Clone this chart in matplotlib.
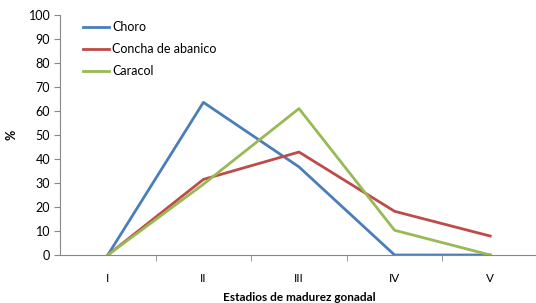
import numpy as np
import matplotlib.pyplot as plt

estadios = ["I", "II", "III", "IV", "V"]
choro = [0, 63.6, 36.7, 0, 0]
concha = [0, 31.5, 42.9, 18.2, 7.9]
caracol = [0, 29.5, 61.0, 10.3, 0]

plt.rcParams["font.family"] = ["Lato", "DejaVu Sans"]

fig = plt.figure(figsize=(5.36, 3.03), dpi=100)
ax = fig.add_axes([60 / 536, 48 / 303, 478 / 536, 240 / 303])

x = np.arange(1, len(estadios) + 1)
ax.plot(x, choro, color="#4A7EBB", lw=2, label="Choro")
ax.plot(x, concha, color="#BE4B48", lw=2, label="Concha de abanico")
ax.plot(x, caracol, color="#98B954", lw=2, label="Caracol")

ax.set_xlim(0.5, 5.5)
ax.set_ylim(0, 100)
ax.set_yticks(range(0, 101, 10))
ax.set_xticks(x)
ax.set_xticklabels(estadios)
ax.set_xticks(np.arange(1.5, 5.5, 1), minor=True)
ax.tick_params(axis="x", which="major", length=0, pad=13, labelsize=8.5)
ax.tick_params(axis="x", which="minor", length=4, color="#888888")
ax.tick_params(axis="y", length=4, color="#888888", labelsize=9, pad=3)

for s in ["top", "right"]:
    ax.spines[s].set_visible(False)
for s in ["left", "bottom"]:
    ax.spines[s].set_color("#888888")

ax.set_xlabel("Estadios de madurez gonadal", fontweight="bold", fontsize=8.5, labelpad=6)
ax.set_ylabel("%", fontweight="bold", fontsize=9, labelpad=8)

ax.legend(loc="upper left", bbox_to_anchor=(0.025, 1.02), frameon=False, fontsize=9,
          handlelength=2.1, handletextpad=0.2, labelspacing=0.8)

fig.savefig("out.png", dpi=100)
